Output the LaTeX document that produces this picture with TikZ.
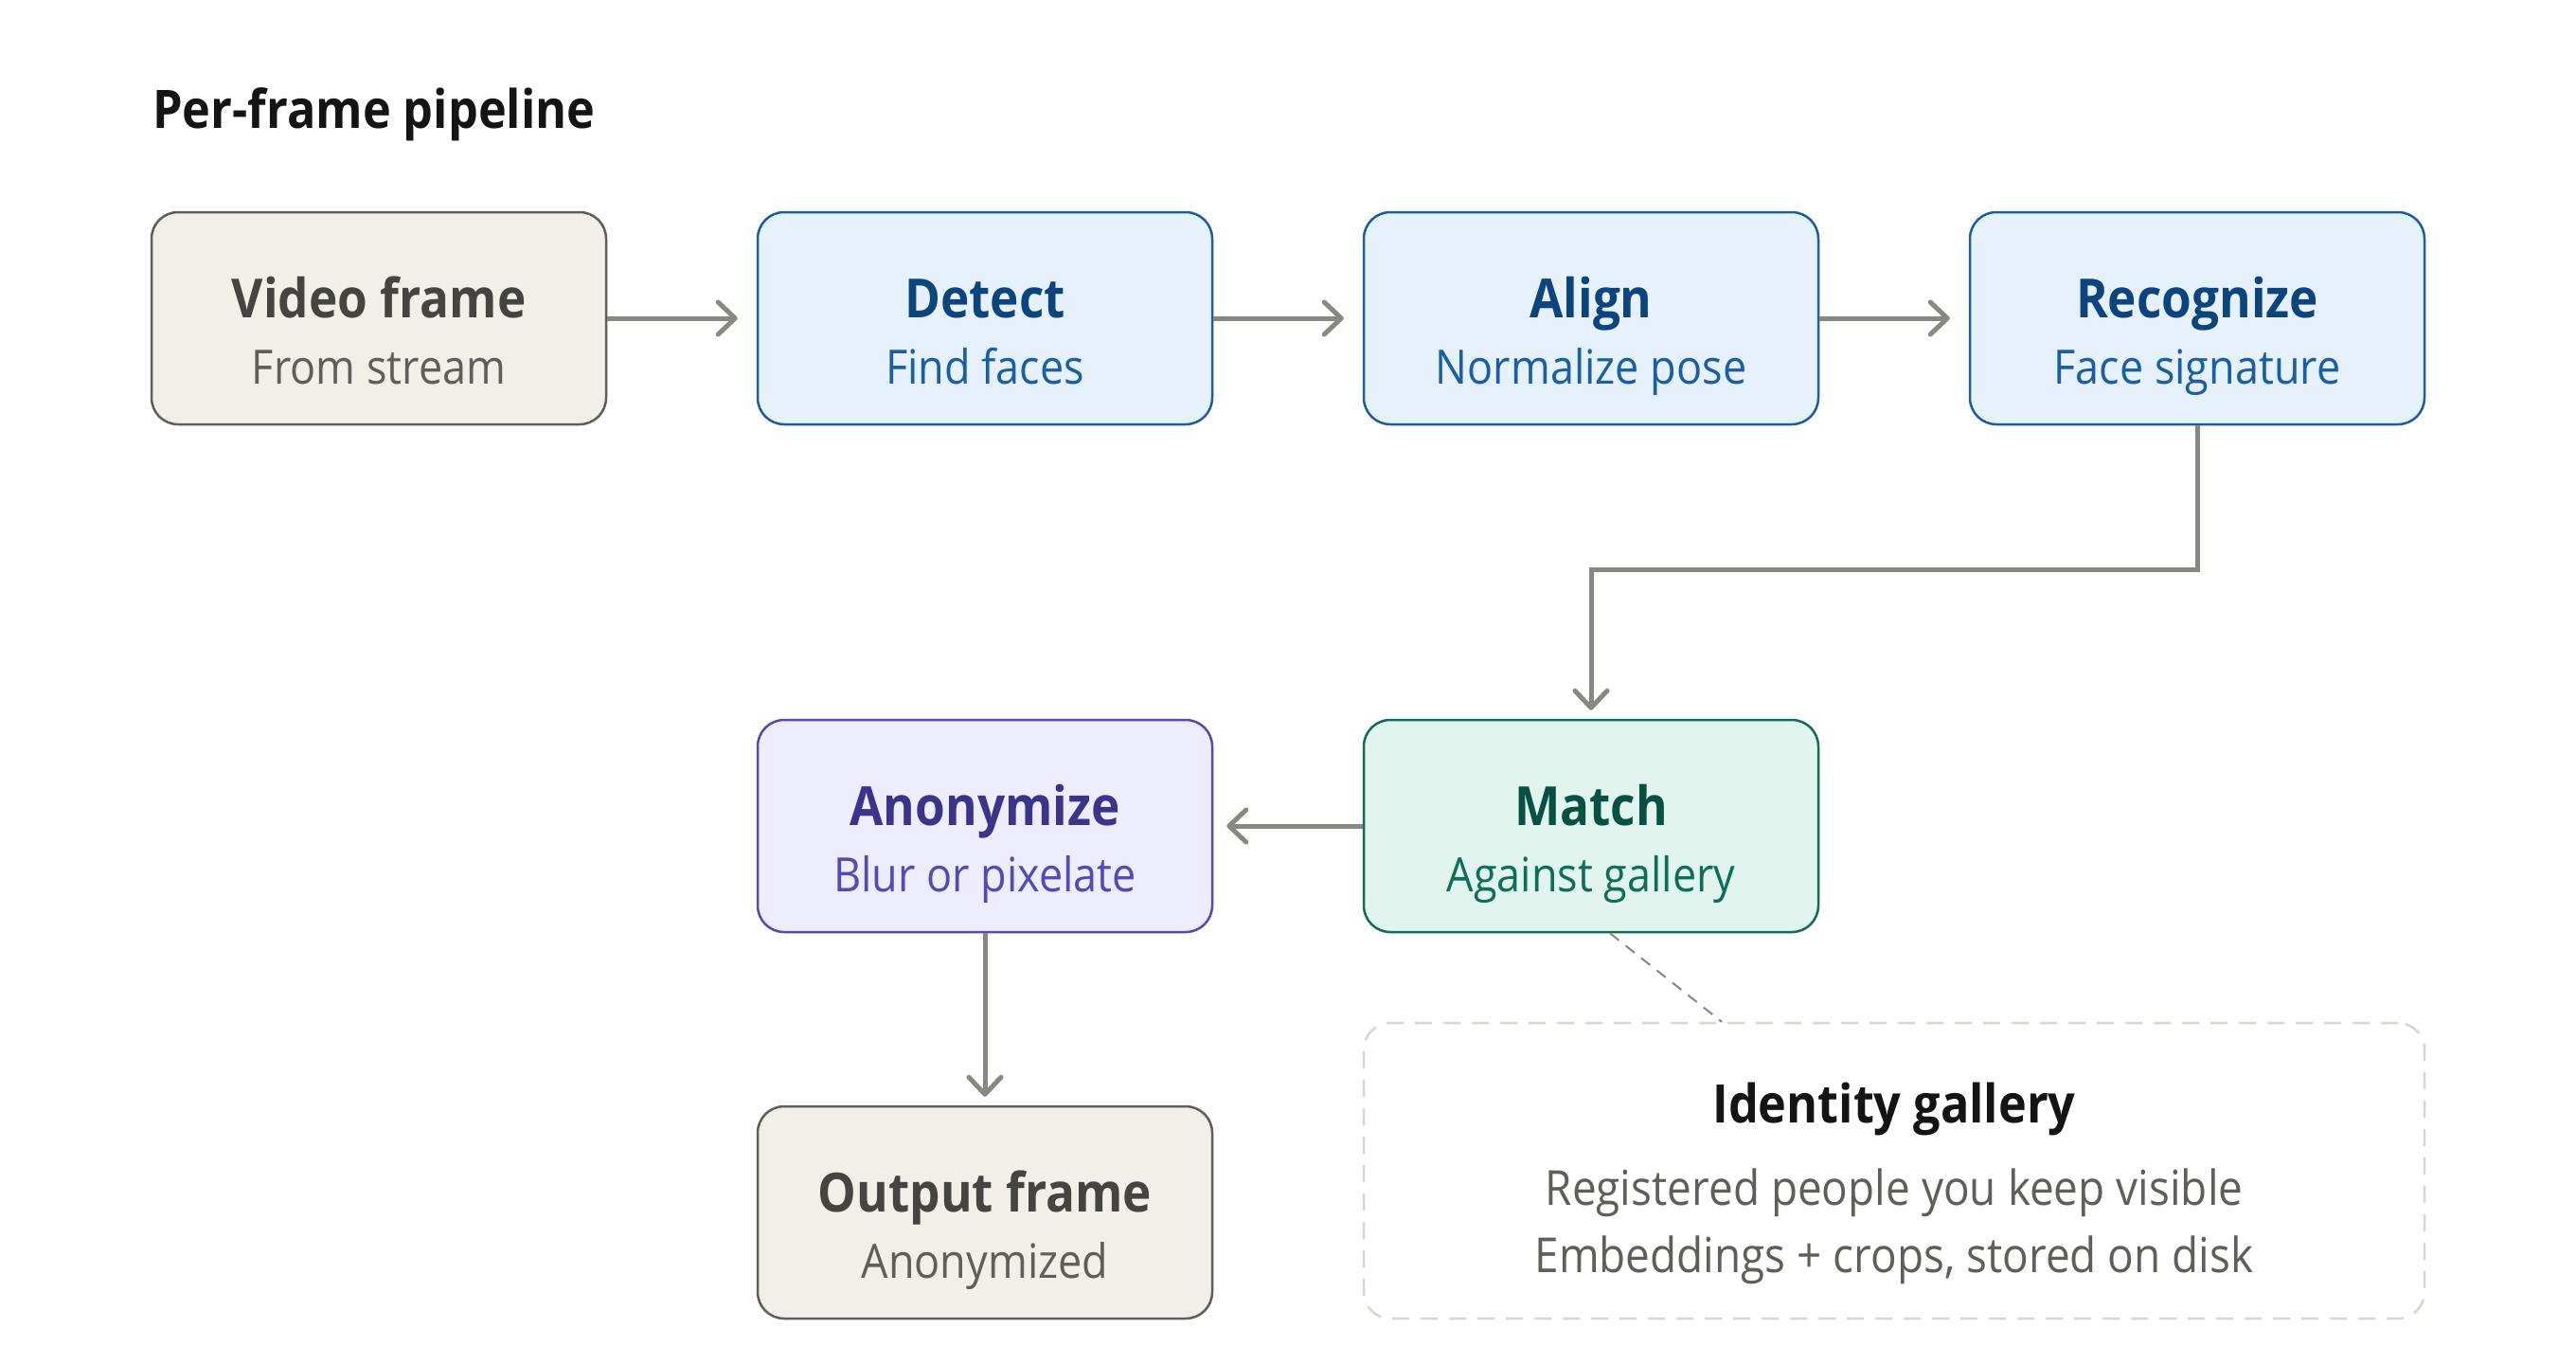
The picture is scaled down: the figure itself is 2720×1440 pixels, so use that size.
\documentclass[tikz,border=0pt]{standalone}
\usepackage{fontspec}
\setmainfont{Open Sans}[FakeStretch=0.9]
\usetikzlibrary{arrows.meta}
\definecolor{bgfill}{HTML}{F1EFE8}
\definecolor{bgline}{HTML}{5F5E5A}
\definecolor{bgtitle}{HTML}{444441}
\definecolor{bgsub}{HTML}{5F5E5A}
\definecolor{blfill}{HTML}{E6F1FB}
\definecolor{blline}{HTML}{185FA5}
\definecolor{bltitle}{HTML}{0C447C}
\definecolor{blsub}{HTML}{185FA5}
\definecolor{grfill}{HTML}{E1F5EE}
\definecolor{grline}{HTML}{0F6E56}
\definecolor{grtitle}{HTML}{085041}
\definecolor{grsub}{HTML}{0F6E56}
\definecolor{pufill}{HTML}{EEEDFE}
\definecolor{puline}{HTML}{534AB7}
\definecolor{putitle}{HTML}{3C3489}
\definecolor{pusub}{HTML}{534AB7}
\definecolor{arrowgray}{HTML}{888780}
\definecolor{galline}{HTML}{D8D6CE}
\definecolor{inkdark}{HTML}{141414}
\begin{document}
\begin{tikzpicture}[x=1pt,y=-1pt,
  box/.style={rectangle, rounded corners=28pt, minimum width=480pt, minimum height=224pt, line width=2.5pt, inner sep=0pt},
  beigebox/.style={box, fill=bgfill, draw=bgline},
  bluebox/.style={box, fill=blfill, draw=blline},
  greenbox/.style={box, fill=grfill, draw=grline},
  purplebox/.style={box, fill=pufill, draw=puline},
  ttl/.style={anchor=base, inner sep=0pt, font=\fontsize{57}{62}\selectfont\bfseries},
  subt/.style={anchor=base, inner sep=0pt, font=\fontsize{50}{56}\selectfont},
  conn/.style={draw=arrowgray, line width=5pt, -{Straight Barb[length=18pt,width=34pt,round]}},
  dashconn/.style={draw=arrowgray, line width=2pt, dash pattern=on 12pt off 9pt},
  galbox/.style={rectangle, rounded corners=28pt, minimum width=1120pt, minimum height=312pt, draw=galline, line width=2.5pt, dash pattern=on 18pt off 12pt, inner sep=0pt},
  galline/.style={anchor=base, inner sep=0pt, text=bgsub, font=\fontsize{51}{56}\selectfont}
]
\useasboundingbox[fill=white] (0,0) rectangle (2720,1440);

\node[anchor=base west, inner sep=0pt, text=inkdark, font=\fontsize{56}{62}\selectfont\bfseries] (title) at (161,135) {Per-frame pipeline};

% boxes
\node[beigebox] (vf) at (400,336) {};
\node[bluebox] (det) at (1040,336) {};
\node[bluebox] (ali) at (1680,336) {};
\node[bluebox] (rec) at (2320,336) {};
\node[purplebox] (anon) at (1040,872) {};
\node[greenbox] (match) at (1680,872) {};
\node[beigebox] (out) at (1040,1280) {};
\node[galbox] (gal) at (2000,1236) {};

% box texts
\node[ttl, text=bgtitle] (vf-t) at ([yshift=1pt]vf.center) {Video frame};
\node[subt, text=bgsub] (vf-s) at ([yshift=-69pt]vf.center) {From stream};
\node[ttl, text=bltitle] (det-t) at ([yshift=1pt]det.center) {Detect};
\node[subt, text=blsub] (det-s) at ([yshift=-69pt]det.center) {Find faces};
\node[ttl, text=bltitle] (ali-t) at ([yshift=1pt]ali.center) {Align};
\node[subt, text=blsub] (ali-s) at ([yshift=-69pt]ali.center) {Normalize pose};
\node[ttl, text=bltitle] (rec-t) at ([yshift=1pt]rec.center) {Recognize};
\node[subt, text=blsub] (rec-s) at ([yshift=-69pt]rec.center) {Face signature};
\node[ttl, text=putitle] (anon-t) at ([yshift=1pt]anon.center) {Anonymize};
\node[subt, text=pusub] (anon-s) at ([yshift=-69pt]anon.center) {Blur or pixelate};
\node[ttl, text=grtitle] (match-t) at ([yshift=1pt]match.center) {Match};
\node[subt, text=grsub] (match-s) at ([yshift=-69pt]match.center) {Against gallery};
\node[ttl, text=bgtitle] (out-t) at ([yshift=1pt]out.center) {Output frame};
\node[subt, text=bgsub] (out-s) at ([yshift=-69pt]out.center) {Anonymized};

% gallery texts
\node[ttl, text=inkdark, font=\fontsize{56}{62}\selectfont\bfseries] (gal-t) at ([yshift=51pt]gal.center) {Identity gallery};
\node[galline] (gal-a) at ([yshift=-36pt]gal.center) {Registered people you keep visible};
\node[galline] (gal-b) at ([yshift=-107pt]gal.center) {Embeddings + crops, stored on disk};

% connectors
\draw[conn, shorten >=20pt] (vf.east) -- (det.west);
\draw[conn, shorten >=20pt] (det.east) -- (ali.west);
\draw[conn, shorten >=20pt] (ali.east) -- (rec.west);
\draw[conn, shorten >=9pt] (rec.south) -- ++(0,152) -| (match.north);
\draw[conn, shorten >=14pt] (match.west) -- (anon.east);
\draw[conn, shorten >=9pt] (anon.south) -- (out.north);
\draw[dashconn] ([xshift=20pt]match.south) -- ([xshift=-182pt]gal.north);
\end{tikzpicture}
\end{document}
